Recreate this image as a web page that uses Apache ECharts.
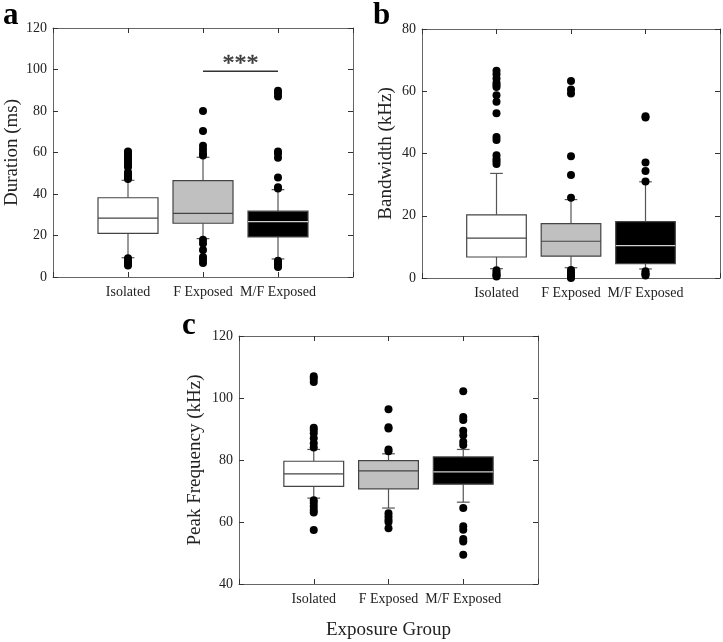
<!DOCTYPE html>
<html>
<head>
<meta charset="utf-8">
<script src="https://cdn.jsdelivr.net/npm/echarts@6/dist/echarts.min.js"></script>
<style>html,body{margin:0;padding:0;background:#fff}#c{width:723px;height:642px}</style>
</head>
<body>
<div id="c"></div>
<script>
// ---- data ----
const categories = ['Isolated', 'F Exposed', 'M/F Exposed'];
const panelLetters = ['a', 'b', 'c'];
const yNames = ['Duration (ms)', 'Bandwidth (kHz)', 'Peak Frequency (kHz)'];
const xName = 'Exposure Group';
// [lower whisker, Q1, median, Q3, upper whisker]
const durationBoxes = [[9.3, 21.0, 28.4, 38.2, 46.6], [18.5, 25.9, 30.7, 46.4, 57.7], [8.7, 19.3, 26.7, 31.7, 42.1]];
const bandwidthBoxes = [[3.0, 6.75, 12.8, 20.3, 33.6], [3.3, 7.0, 11.8, 17.5, 25.2], [2.9, 4.6, 10.4, 18.1, 30.9]];
const peakBoxes = [[67.7, 71.5, 75.5, 79.6, 83.4], [64.5, 70.7, 76.5, 79.8, 82.0], [66.4, 72.2, 76.2, 81.0, 83.4]];
const durationOutliers = [
  [47.2, 48.0, 48.8, 49.5, 50.5, 53.0, 54.0, 55.0, 56.0, 57.0, 58.0, 59.0, 60.0, 60.5, 9.0, 8.0, 7.0, 6.3, 5.6],
  [58.5, 59.6, 61.4, 63.3, 70.4, 80.0, 18.0, 16.2, 13.0, 9.6, 8.4, 6.8],
  [42.7, 43.3, 48.0, 57.5, 59.5, 60.5, 87.0, 88.5, 89.8, 7.8, 7.0, 6.2, 5.5, 4.8]
];
const bandwidthOutliers = [
  [36.6, 37.5, 38.2, 39.4, 44.3, 45.3, 52.9, 56.6, 58.7, 61.4, 62.0, 62.7, 64.1, 65.5, 66.6, 2.5, 1.8, 1.2, 0.8, 0.5],
  [25.8, 33.1, 39.1, 59.3, 60.6, 63.3, 2.6, 1.8, 1.0, 0.3, 0.0],
  [31.0, 34.4, 37.1, 51.6, 52.0, 2.2, 1.5, 1.2, 0.8]
];
const peakOutliers = [
  [84.0, 85.4, 87.0, 88.6, 89.7, 90.4, 105.2, 106.3, 107.0, 67.0, 66.1, 65.0, 63.9, 63.1, 57.4],
  [82.8, 83.4, 90.2, 90.6, 96.4, 62.8, 61.8, 60.7, 60.0, 58.0],
  [84.8, 85.9, 88.0, 89.4, 92.9, 93.9, 102.2, 64.5, 58.6, 57.5, 54.5, 53.7, 49.4]
];
const yRanges = [[0, 120], [0, 80], [40, 120]];
const yInterval = 20;
const sigBar = [[2, 99.1], [3, 99.1]];
const sigLabel = '***';
const sigLabelPos = [2.5, 103];

// ---- styles ----
const FONT = '"Liberation Serif", "Times New Roman", serif';
const boxFills = ['#ffffff', '#c0c0c0', '#000000'];
const medianColors = ['#444444', '#444444', '#d0d0d0'];
const BOX_HALF = 0.4, CAP_HALF = 0.085;
const grids = [
  {left: 53, top: 28, width: 300, height: 249},
  {left: 422, top: 29, width: 298, height: 249},
  {left: 239, top: 336, width: 299, height: 248}
];
const nameGaps = [31, 26, 34];

function renderBox(params, api) {
  const x = api.value(0);
  const lo = api.coord([x, api.value(1)]);
  const q1 = api.coord([x, api.value(2)]);
  const md = api.coord([x, api.value(3)]);
  const q3 = api.coord([x, api.value(4)]);
  const hi = api.coord([x, api.value(5)]);
  const hw = api.size([BOX_HALF, 0])[0];
  const cw = api.size([CAP_HALF, 0])[0];
  const i = params.dataIndex;
  const cx = lo[0];
  const wStyle = {stroke: '#555', lineWidth: 1.2};
  return {
    type: 'group',
    children: [
      {type: 'line', shape: {x1: cx, y1: q3[1], x2: cx, y2: hi[1]}, style: wStyle},
      {type: 'line', shape: {x1: cx, y1: q1[1], x2: cx, y2: lo[1]}, style: wStyle},
      {type: 'line', shape: {x1: cx - cw, y1: hi[1], x2: cx + cw, y2: hi[1]}, style: wStyle},
      {type: 'line', shape: {x1: cx - cw, y1: lo[1], x2: cx + cw, y2: lo[1]}, style: wStyle},
      {type: 'rect', shape: {x: cx - hw, y: q3[1], width: 2 * hw, height: q1[1] - q3[1]},
        style: {fill: boxFills[i], stroke: '#444', lineWidth: 1.2}},
      {type: 'line', shape: {x1: cx - hw, y1: md[1], x2: cx + hw, y2: md[1]},
        style: {stroke: medianColors[i], lineWidth: 1.2}}
    ]
  };
}

const allBoxes = [durationBoxes, bandwidthBoxes, peakBoxes];
const allOutliers = [durationOutliers, bandwidthOutliers, peakOutliers];

const xAxes = [], yAxes = [], series = [], titles = [];
const axisLine = {show: true, onZero: false, lineStyle: {color: '#666', width: 1}};
const axisTick = {show: true, inside: true, length: 5, lineStyle: {color: '#333', width: 1}};
const labelStyle = {fontFamily: FONT, fontSize: 14, color: '#222'};

grids.forEach((g, k) => {
  xAxes.push({
    type: 'value', gridIndex: k, min: 0, max: 4, interval: 1, position: 'bottom',
    axisLine, axisTick, splitLine: {show: false},
    axisLabel: Object.assign({margin: 8, formatter: v => categories[v - 1] || ''}, labelStyle),
    name: k === 2 ? xName : '', nameLocation: 'middle', nameGap: 37,
    nameTextStyle: {fontFamily: FONT, fontSize: 19, color: '#222'}
  });
  xAxes.push({
    type: 'value', gridIndex: k, min: 0, max: 4, interval: 1, position: 'top',
    axisLine, axisTick, axisLabel: {show: false}, splitLine: {show: false}
  });
  yAxes.push({
    type: 'value', gridIndex: k, min: yRanges[k][0], max: yRanges[k][1], interval: yInterval,
    position: 'left', axisLine, axisTick, splitLine: {show: false},
    axisLabel: Object.assign({margin: 6}, labelStyle),
    name: yNames[k], nameLocation: 'middle', nameGap: nameGaps[k], nameRotate: 90,
    nameTextStyle: {fontFamily: FONT, fontSize: 19, color: '#222'}
  });
  yAxes.push({
    type: 'value', gridIndex: k, min: yRanges[k][0], max: yRanges[k][1], interval: yInterval,
    position: 'right', axisLine, axisTick, axisLabel: {show: false}, splitLine: {show: false}
  });
  series.push({
    type: 'custom', xAxisIndex: 2 * k, yAxisIndex: 2 * k, renderItem: renderBox,
    data: allBoxes[k].map((b, i) => [i + 1].concat(b)), z: 2
  });
  const pts = [];
  allOutliers[k].forEach((arr, i) => arr.forEach(v => pts.push([i + 1, v])));
  series.push({
    type: 'scatter', xAxisIndex: 2 * k, yAxisIndex: 2 * k, data: pts,
    symbol: 'circle', symbolSize: 8, itemStyle: {color: '#000', opacity: 1}, z: 5, silent: true
  });
});

series.push({
  type: 'line', xAxisIndex: 0, yAxisIndex: 0, data: sigBar, symbol: 'none',
  lineStyle: {color: '#333', width: 1.5}, z: 6, silent: true
});
series.push({
  type: 'scatter', xAxisIndex: 0, yAxisIndex: 0, data: [sigLabelPos], symbolSize: 0, z: 6, silent: true,
  label: {show: true, position: 'inside', formatter: sigLabel, fontFamily: FONT, fontSize: 24, color: '#111',
    textBorderColor: '#111', textBorderWidth: 0.4}
});

const letterPos = [[3, 0], [373, 0], [182, 310]];
letterPos.forEach((p, k) => titles.push({
  text: panelLetters[k], left: p[0], top: p[1], padding: 0,
  textStyle: {fontFamily: FONT, fontSize: 31, fontWeight: 'bold', color: '#000'}
}));

const chart = echarts.init(document.getElementById('c'));
chart.setOption({
  animation: false,
  backgroundColor: '#fff',
  title: titles,
  grid: grids,
  xAxis: xAxes,
  yAxis: yAxes,
  series
});
</script>
</body>
</html>
